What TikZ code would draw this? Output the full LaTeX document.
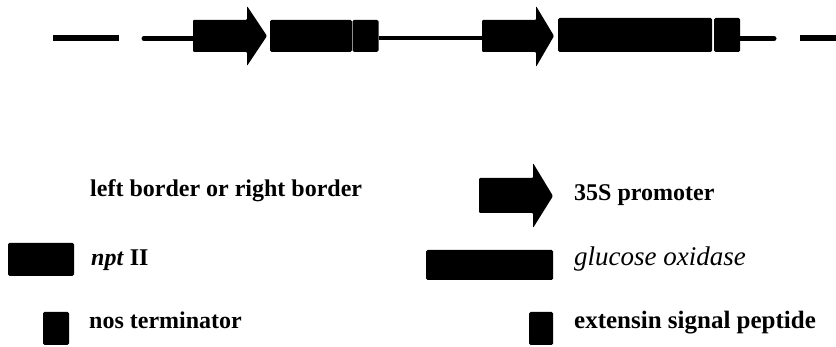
\documentclass[tikz,border=0pt]{standalone}
\usepackage{fontspec}
\setmainfont{Liberation Serif}
\begin{document}
\begin{tikzpicture}
[x=1pt,y=-1pt,%
 part/.style={fill=black,rounded corners=1.5pt,inner sep=0pt,outer sep=0pt,anchor=north west},%
 promoter/.style={fill=black,rounded corners=1pt},%
 backbone/.style={line width=5pt},%
 border/.style={line width=6pt},%
 legend/.style={anchor=base west,inner sep=0pt,font=\fontsize{24}{28}\selectfont\bfseries}]
\useasboundingbox (0,0) rectangle (836,347);
%% T-DNA map: borders and backbone
\coordinate (lb-start) at (53,38.5);
\coordinate (lb-end) at (119,38.5);
\coordinate (rb-start) at (800,38.5);
\coordinate (rb-end) at (840,38.5);
\coordinate (dna-start) at (144,38.5);
\coordinate (dna-end) at (774,38.5);
\draw[border] (lb-start) -- (lb-end);
\draw[border] (rb-start) -- (rb-end);
%% first cassette: 35S promoter, npt II, nos terminator
\fill[promoter] (193,20) -- (247,20) -- (247,6) -- (267,36) -- (247,66) -- (247,52) -- (193,52) -- cycle;
\coordinate (pro1-w) at (193,38.5);
\coordinate (pro1-e) at (267,36);
\node[part,minimum width=82pt,minimum height=32pt] (npt) at (270,20) {};
\node[part,minimum width=26pt,minimum height=32pt] (nos) at (352.5,20) {};
%% second cassette: 35S promoter, glucose oxidase, extensin signal peptide
\fill[promoter] (482,20) -- (536,20) -- (536,6) -- (554,36) -- (536,67) -- (536,52) -- (482,52) -- cycle;
\coordinate (pro2-w) at (482,38.5);
\coordinate (pro2-e) at (554,36);
\node[part,minimum width=154pt,minimum height=34pt] (gox) at (558,18) {};
\node[part,minimum width=26pt,minimum height=34pt] (ext) at (714,18) {};
%% backbone between the parts
\draw[backbone,line cap=round] (dna-start) -- (pro1-w);
\draw[backbone,line width=4pt] (nos.east |- dna-start) -- (pro2-w);
\draw[backbone,line cap=round] (ext.east |- dna-end) -- (dna-end);
%% legend
\node[legend] (lb-text) at (90,197) {left border or right border};
\node[part,minimum width=66pt,minimum height=33pt] (npt-key) at (8,243) {};
\node[legend] (npt-text) at (91,266) {\textit{npt} II};
\node[part,minimum width=26pt,minimum height=33pt] (nos-key) at (43,312) {};
\node[legend] (nos-text) at (89,329) {nos terminator};
\fill[promoter] (479,178) -- (533,178) -- (533,163) -- (553,196) -- (533,228) -- (533,213) -- (479,213) -- cycle;
\node[legend] (pro-text) at (574,201) {35S promoter};
\node[part,minimum width=127pt,minimum height=30pt] (gox-key) at (426,250) {};
\node[legend,font=\fontsize{27}{30}\selectfont\itshape] (gox-text) at (574,266) {glucose oxidase};
\node[part,minimum width=24pt,minimum height=33pt] (ext-key) at (529,312) {};
\node[legend,font=\fontsize{25}{28}\selectfont\bfseries] (ext-text) at (574,329) {extensin signal peptide};
\end{tikzpicture}
\end{document}
